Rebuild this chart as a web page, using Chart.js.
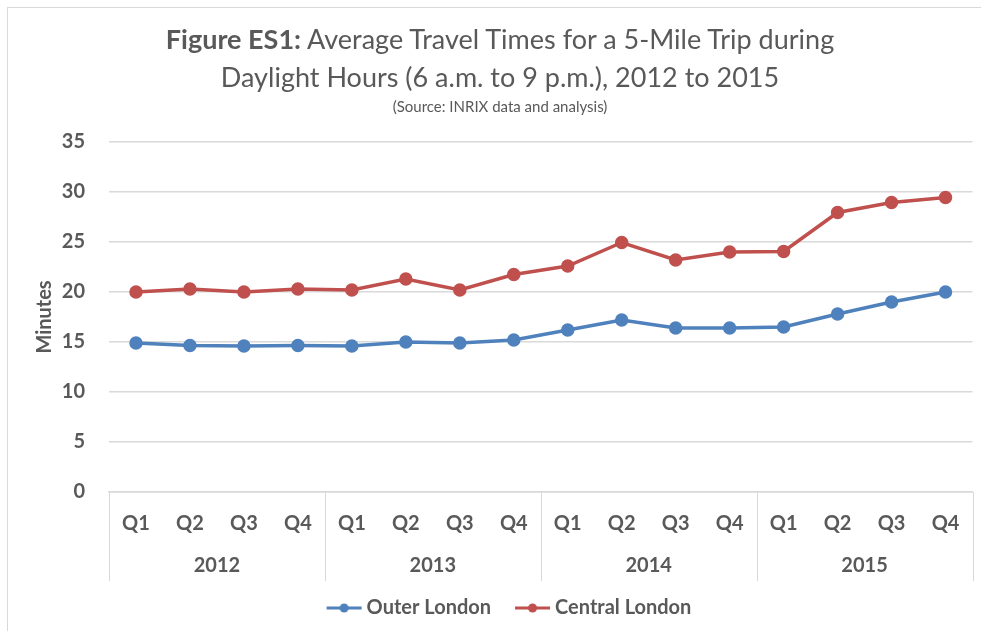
<!DOCTYPE html>
<html>
<head>
<meta charset="utf-8">
<script src="https://cdn.jsdelivr.net/npm/chart.js@4.4.1/dist/chart.umd.min.js"></script>
<style>
  html, body { margin: 0; padding: 0; background: #fff; }
  #wrap { position: relative; width: 981px; height: 631px; overflow: hidden; }
  #frame { position: absolute; left: 7px; top: 7px; width: 1000px; height: 700px; border: 1.5px solid #d9d9d9; box-sizing: border-box; }
  #myChart { position: absolute; left: 0; top: 0; }
  #title { position: absolute; left: 0; top: 20px; width: 1000px; text-align: center; color: #595959; font-family: Lato, sans-serif; }
  #title .l1, #title .l2 { font-size: 27px; line-height: 38px; }
  #title .l3 { font-size: 15px; line-height: 21px; }
</style>
</head>
<body>
<div id="wrap">
  <div id="frame"></div>
  <canvas id="myChart" width="981" height="631"></canvas>
  <div id="title">
    <div class="l1"><b>Figure ES1:</b> Average Travel Times for a 5-Mile Trip during</div>
    <div class="l2">Daylight Hours (6 a.m. to 9 p.m.), 2012 to 2015</div>
    <div class="l3">(Source: INRIX data and analysis)</div>
  </div>
</div>
<script>
var quarters = ['Q1','Q2','Q3','Q4','Q1','Q2','Q3','Q4','Q1','Q2','Q3','Q4','Q1','Q2','Q3','Q4'];
var years = ['2012', '2013', '2014', '2015'];
var outerLondon = [14.9, 14.65, 14.6, 14.65, 14.6, 15.0, 14.9, 15.2, 16.2, 17.2, 16.4, 16.4, 16.5, 17.8, 19.0, 20.0];
var centralLondon = [20.0, 20.3, 20.0, 20.3, 20.2, 21.3, 20.2, 21.75, 22.6, 24.95, 23.2, 24.0, 24.05, 27.95, 28.95, 29.45];

var blue = '#4f81bd';
var red = '#c0504d';
var grey = '#595959';
var lineGrey = '#d9d9d9';
var fontName = 'Lato, sans-serif';

// legend icon: line with a dot, drawn a bit wider than the box so the gaps look like Excel's
function legendIcon(color) {
    var c = document.createElement('canvas');
    c.width = 56; c.height = 12;
    var g = c.getContext('2d');
    g.strokeStyle = color;
    g.lineWidth = 3;
    g.beginPath(); g.moveTo(18, 6); g.lineTo(53, 6); g.stroke();
    g.fillStyle = color;
    g.beginPath(); g.arc(35.5, 6, 4.5, 0, Math.PI * 2); g.fill();
    return c;
}

// vertical separators between the year groups under the axis
var yearLines = {
    id: 'yearLines',
    afterDraw: function (chart) {
        var x = chart.scales.x, x2 = chart.scales.x2;
        var g = chart.ctx;
        g.save();
        g.strokeStyle = lineGrey;
        g.lineWidth = 1;
        for (var i = 0; i <= years.length; i++) {
            var px = Math.round(x.left + i * (x.right - x.left) / years.length) + 0.5;
            g.beginPath();
            g.moveTo(px, chart.chartArea.bottom);
            g.lineTo(px, x2.bottom - 3);
            g.stroke();
        }
        g.restore();
    }
};

var ctx = document.getElementById('myChart');
var myChart = new Chart(ctx, {
    type: 'line',
    data: {
        labels: quarters,
        datasets: [{
            label: 'Outer London',
            data: outerLondon,
            borderColor: blue,
            backgroundColor: blue,
            borderWidth: 3.5,
            pointRadius: 5,
            pointHoverRadius: 5,
            tension: 0
        }, {
            label: 'Central London',
            data: centralLondon,
            borderColor: red,
            backgroundColor: red,
            borderWidth: 3.5,
            pointRadius: 5,
            pointHoverRadius: 5,
            tension: 0
        }]
    },
    options: {
        responsive: false,
        maintainAspectRatio: false,
        animation: false,
        layout: { padding: { top: 142, right: 6, left: 33, bottom: 3 } },
        plugins: {
            tooltip: { enabled: false },
            legend: {
                position: 'bottom',
                labels: {
                    usePointStyle: true,
                    pointStyleWidth: 40,
                    padding: 14,
                    color: grey,
                    font: { family: fontName, size: 20, weight: 'bold', lineHeight: 1.6 },
                    generateLabels: function (chart) {
                        return chart.data.datasets.map(function (ds, i) {
                            return {
                                text: ds.label,
                                pointStyle: legendIcon(ds.borderColor),
                                fillStyle: ds.borderColor,
                                strokeStyle: ds.borderColor,
                                lineWidth: 0,
                                fontColor: grey,
                                datasetIndex: i
                            };
                        });
                    }
                }
            }
        },
        scales: {
            y: {
                min: 0,
                max: 35,
                afterFit: function (scale) { scale.width = 76; },
                ticks: {
                    stepSize: 5,
                    color: grey,
                    padding: 24,
                    font: { family: fontName, size: 20, weight: 'bold' }
                },
                grid: { color: lineGrey, lineWidth: 1.5, drawTicks: false },
                border: { display: false },
                title: {
                    display: true,
                    text: 'Minutes',
                    color: grey,
                    padding: 0,
                    font: { family: fontName, size: 20, weight: 'bold' }
                }
            },
            x: {
                offset: true,
                ticks: {
                    color: grey,
                    padding: 12,
                    maxRotation: 0,
                    autoSkip: false,
                    font: { family: fontName, size: 20, weight: 'bold' }
                },
                grid: { display: false },
                border: { display: true, color: lineGrey, width: 1.5 }
            },
            x2: {
                type: 'category',
                labels: years,
                offset: true,
                position: 'bottom',
                ticks: {
                    color: grey,
                    padding: 6,
                    maxRotation: 0,
                    font: { family: fontName, size: 20, weight: 'bold' }
                },
                grid: { display: false, drawTicks: false },
                border: { display: false }
            }
        }
    },
    plugins: [yearLines]
});
</script>
</body>
</html>
